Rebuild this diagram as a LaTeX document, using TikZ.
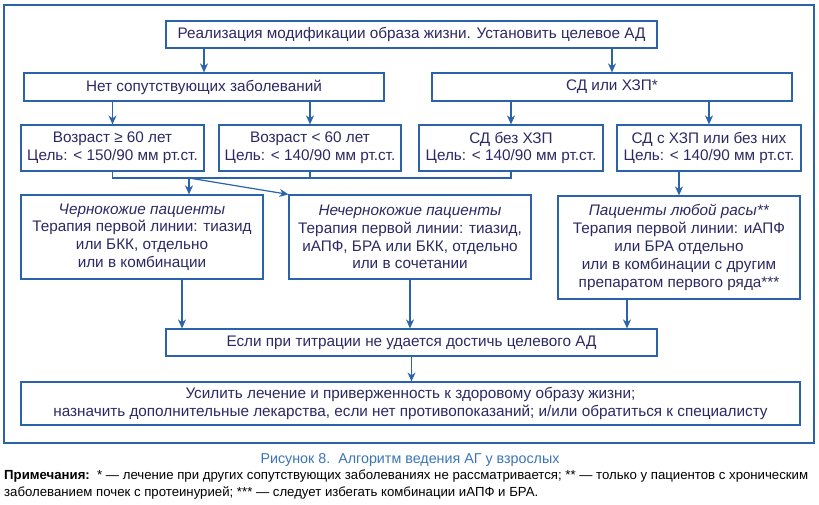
\documentclass[tikz,border=0pt]{standalone}
\usepackage{fontspec}
\setmainfont{Liberation Sans}
\usetikzlibrary{arrows.meta}
\definecolor{boxblue}{HTML}{2A63AA}
\definecolor{textnavy}{HTML}{2B2963}
\definecolor{capblue}{HTML}{3A74B8}

\begin{document}
\begin{tikzpicture}[
  x=1pt, y=-1pt, font=\fontsize{15.3}{17.8}\selectfont, text=textnavy,
  box/.style={draw=boxblue, line width=1.2pt, inner sep=0pt, align=center, minimum width=#1},
  arr/.style={-{Stealth[length=9pt,width=8pt]}, line width=1.2pt, boxblue},
  line/.style={line width=1.2pt, boxblue}
]
\useasboundingbox (0,0) rectangle (819,505);

%% Outer frame
\draw[line] (4,5) rectangle (814,443);

%% Start
\node[box=491pt, minimum height=27pt] (lifestyle) at (411.5,34.5) {Реализация модификации образа жизни. Установить целевое АД};

%% Two groups
\node[box=360pt, minimum height=28pt] (nocomorb) at (204,87) {Нет сопутствующих заболеваний};
\node[box=360pt, minimum height=28pt] (dmckd) at (612,87) {СД или ХЗП*};

%% Targets
\node[box=183pt, minimum height=46pt] (ageold) at (112.5,148) {Возраст ≥ 60 лет\\Цель: < 150/90 мм рт.ст.};
\node[box=182pt, minimum height=46pt] (ageyoung) at (310,148) {Возраст < 60 лет\\Цель: < 140/90 мм рт.ст.};
\node[box=184pt, minimum height=46pt] (dmonly) at (511,148) {СД без ХЗП\\Цель: < 140/90 мм рт.ст.};
\node[box=184pt, minimum height=46pt] (dmckdany) at (709,148) {СД с ХЗП или без них\\Цель: < 140/90 мм рт.ст.};

%% First-line therapy
\node[box=242pt, minimum height=84pt] (black) at (142,237) {\textit{Чернокожие пациенты}\\Терапия первой линии: тиазид\\или БКК, отдельно\\или в комбинации};
\node[box=242pt, minimum height=84pt] (nonblack) at (410,237) {\textit{Нечернокожие пациенты}\\Терапия первой линии: тиазид,\\иАПФ, БРА или БКК, отдельно\\или в сочетании};
\node[box=242pt, minimum height=103pt] (anyrace) at (679,247.5) {\textit{Пациенты любой расы**}\\Терапия первой линии: иАПФ\\или БРА отдельно\\или в комбинации с другим\\препаратом первого ряда***};

%% Titration
\node[box=491pt, minimum height=27pt] (notreached) at (411.5,342.5) {Если при титрации не удается достичь целевого АД};
\node[box=779pt, minimum height=43pt] (intensify) at (410.5,403.5) {Усилить лечение и приверженность к здоровому образу жизни;\\назначить дополнительные лекарства, если нет противопоказаний; и/или обратиться к специалисту};

%% Caption and notes
\node[text=capblue, font=\fontsize{14.3}{16}\selectfont] (caption) at (410,460) {Рисунок 8.\ \ Алгоритм ведения АГ у взрослых};
\node[text=black, anchor=north west, align=left, inner sep=0pt, font=\fontsize{13.2}{16.5}\selectfont] (notes) at (4,470) {\textbf{Примечания:}\ \ * — лечение при других сопутствующих заболеваниях не рассматривается; ** — только у пациентов с хроническим\\заболеванием почек с протеинурией; *** — следует избегать комбинации иАПФ и БРА.};

%% Arrows
\coordinate (split) at (189,178);
\draw[arr] (lifestyle.south -| nocomorb) -- (nocomorb);
\draw[arr] (lifestyle.south -| dmckd) -- (dmckd);
\draw[arr] (nocomorb.south -| ageold) -- (ageold);
\draw[arr] (nocomorb.south -| ageyoung) -- (ageyoung);
\draw[arr] (dmckd.south -| dmonly) -- (dmonly);
\draw[arr] (dmckd.south -| dmckdany) -- (dmckdany);
\draw[line] (ageold.south) |- (split) -| (dmonly.south);
\draw[line] (ageyoung.south) -- (ageyoung.south |- split);
\draw[arr] (split) -- (split |- black.north);
\draw[arr] (split) -- (nonblack.north west);
\draw[arr] (dmckdany.south -| anyrace.north) -- (anyrace.north);
\draw[arr] ([xshift=40pt]black.south) -- ([xshift=40pt]black.south |- notreached.north);
\draw[arr] (nonblack.south) -- (nonblack.south |- notreached.north);
\draw[arr] ([xshift=-52pt]anyrace.south) -- ([xshift=-52pt]anyrace.south |- notreached.north);
\draw[arr] (notreached.south) -- (notreached.south |- intensify.north);
\end{tikzpicture}
\end{document}
